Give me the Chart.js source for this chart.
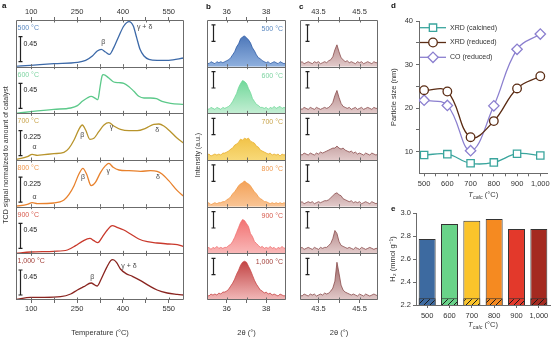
<!DOCTYPE html>
<html>
<head>
<meta charset="utf-8">
<title>Co catalysts calcined at 500–1,000 °C</title>
<script src="https://cdn.jsdelivr.net/npm/chart.js@4.4.1/dist/chart.umd.min.js"></script>
<style>
  html, body { margin: 0; padding: 0; background: #fff; }
  #fig { position: relative; width: 554px; height: 337px; overflow: hidden; }
  #fig canvas { position: absolute; }
  .tag { position: absolute; font: bold 8px "Liberation Sans", Arial, sans-serif; color: #111; }
</style>
</head>
<body>
<div id="fig">
  <canvas id="tpr" width="192" height="337" style="left:0;top:0"></canvas>
  <canvas id="xrdB" width="100" height="337" style="left:192px;top:0"></canvas>
  <canvas id="xrdC" width="93" height="337" style="left:292px;top:0"></canvas>
  <canvas id="size" width="169" height="200" style="left:385px;top:0"></canvas>
  <canvas id="h2" width="169" height="137" style="left:385px;top:200px"></canvas>
  <div class="tag" style="left:2px;top:1px">a</div>
  <div class="tag" style="left:206px;top:2px">b</div>
  <div class="tag" style="left:299px;top:2px">c</div>
  <div class="tag" style="left:391px;top:1px">d</div>
  <div class="tag" style="left:391px;top:204px">e</div>
</div>
<script>
// ---- calcination temperatures ----
const calcLabels = ['500 °C', '600 °C', '700 °C', '800 °C', '900 °C', '1,000 °C'];
const calcT = [500, 600, 700, 800, 900, 1000];
const calcNames = ['500', '600', '700', '800', '900', '1,000'];

// ---- (a) H2-TPR profiles, temperature (°C) / TCD signal ----
const tprT500 = [50, 98, 174, 251, 278, 300, 316, 329, 343, 356, 370, 387, 403, 420, 434, 445, 456, 469, 485, 512, 550, 600];
const tprV500 = [0.006, 0.024, 0.054, 0.078, 0.114, 0.192, 0.282, 0.312, 0.264, 0.222, 0.342, 0.552, 0.732, 0.81, 0.732, 0.522, 0.312, 0.192, 0.132, 0.114, 0.114, 0.156];
const tprT600 = [50, 98, 174, 229, 251, 267, 283, 296, 310, 318, 325, 332, 336, 354, 370, 387, 403, 420, 436, 452, 469, 490, 510, 528, 556, 600];
const tprV600 = [0, 0.03, 0.072, 0.096, 0.138, 0.216, 0.276, 0.306, 0.27, 0.246, 0.468, 0.678, 0.696, 0.636, 0.564, 0.552, 0.54, 0.48, 0.396, 0.306, 0.276, 0.276, 0.264, 0.216, 0.18, 0.162];
const tprT700 = [50, 87, 103, 120, 142, 174, 207, 223, 240, 256, 267, 278, 292, 305, 321, 338, 354, 370, 392, 420, 447, 474, 501, 518, 534, 556, 578, 600];
const tprV700 = [0.006, 0.03, 0.051, 0.042, 0.048, 0.057, 0.069, 0.105, 0.18, 0.276, 0.315, 0.27, 0.186, 0.195, 0.255, 0.315, 0.336, 0.306, 0.276, 0.264, 0.264, 0.285, 0.321, 0.324, 0.306, 0.255, 0.195, 0.15];
const tprT800 = [50, 87, 103, 120, 174, 207, 223, 240, 256, 269, 281, 296, 310, 327, 343, 354, 368, 387, 420, 458, 490, 512, 528, 550, 578, 600];
const tprV800 = [0.003, 0.021, 0.036, 0.027, 0.033, 0.06, 0.108, 0.189, 0.294, 0.345, 0.294, 0.189, 0.219, 0.309, 0.369, 0.39, 0.354, 0.33, 0.324, 0.318, 0.324, 0.318, 0.294, 0.234, 0.144, 0.09];
const tprT900 = [50, 98, 174, 218, 245, 267, 292, 305, 318, 332, 349, 365, 381, 403, 425, 452, 480, 512, 550, 578, 600];
const tprV900 = [0, 0.024, 0.036, 0.06, 0.138, 0.216, 0.27, 0.228, 0.192, 0.288, 0.42, 0.498, 0.468, 0.42, 0.348, 0.258, 0.21, 0.186, 0.168, 0.156, 0.12];
const tprT1000 = [50, 98, 142, 196, 229, 251, 272, 296, 308, 316, 329, 347, 360, 367, 379, 392, 409, 431, 458, 485, 512, 545, 578, 600];
const tprV1000 = [0.012, 0.048, 0.048, 0.06, 0.108, 0.18, 0.24, 0.306, 0.27, 0.252, 0.378, 0.588, 0.708, 0.726, 0.678, 0.558, 0.48, 0.426, 0.348, 0.258, 0.18, 0.126, 0.102, 0.09];
const tprScaleBars = [0.45, 0.45, 0.225, 0.225, 0.45, 0.45];
const tprYMax = [0.84, 0.84, 0.42, 0.42, 0.84, 0.84];
const tempTicks = [100, 175, 250, 325, 400, 475, 550];
const tempLabels = [100, 250, 400, 550];

// ---- (b) Co3O4 (311) reflection, 2θ (°) / counts ----
const twoThetaB = [35.0, 35.1, 35.2, 35.3, 35.4, 35.5, 35.6, 35.7, 35.8, 35.9, 36.0, 36.1, 36.2, 36.3, 36.4, 36.5, 36.6, 36.7, 36.8, 36.9, 37.0, 37.1, 37.2, 37.3, 37.4, 37.5, 37.6, 37.7, 37.8, 37.9, 38.0, 38.1, 38.2, 38.3, 38.4, 38.5, 38.6, 38.7, 38.8, 38.9, 39.0];
const xrdB500 = [4, 3, 5, 4, 3, 5, 4, 5, 4, 5, 6, 7, 9, 12, 15, 20, 23, 28, 30, 31, 29, 27, 24, 19, 16, 12, 9, 8, 6, 5, 4, 5, 3, 4, 5, 4, 3, 5, 4, 3, 4];
const xrdB600 = [5, 4, 6, 5, 4, 6, 5, 4, 6, 5, 6, 7, 9, 12, 16, 20, 26, 30, 33, 32, 30, 25, 21, 15, 12, 9, 8, 6, 6, 5, 6, 4, 6, 5, 7, 5, 6, 7, 5, 6, 5];
const xrdB700 = [5, 6, 4, 5, 6, 5, 6, 5, 7, 7, 8, 9, 11, 12, 15, 16, 18, 21, 20, 22, 21, 22, 19, 18, 17, 14, 13, 10, 9, 8, 7, 6, 7, 5, 6, 5, 6, 4, 6, 5, 6];
const xrdB800 = [3, 4, 2, 3, 4, 3, 4, 4, 5, 5, 7, 8, 10, 13, 15, 18, 21, 23, 24, 26, 24, 23, 21, 18, 15, 13, 10, 8, 7, 5, 5, 4, 3, 4, 3, 4, 3, 4, 3, 4, 3];
const xrdB900 = [5, 6, 4, 6, 5, 7, 5, 6, 5, 6, 6, 8, 9, 12, 16, 21, 26, 31, 34, 33, 30, 27, 20, 17, 12, 10, 8, 6, 7, 5, 6, 5, 7, 5, 6, 4, 6, 5, 7, 5, 6];
const xrdB1000 = [5, 4, 6, 5, 6, 5, 7, 6, 8, 8, 9, 11, 14, 17, 21, 26, 30, 35, 38, 39, 38, 34, 30, 25, 20, 16, 13, 10, 9, 7, 8, 6, 7, 5, 6, 5, 4, 6, 5, 4, 5];
const angleTicksB = [36, 37, 38];
const angleLabelsB = [36, 38];

// ---- (c) Co (111) reflection after reduction ----
const twoThetaC = [42.6, 42.7, 42.8, 42.9, 43.0, 43.1, 43.2, 43.3, 43.4, 43.5, 43.6, 43.7, 43.8, 43.9, 44.0, 44.1, 44.2, 44.3, 44.4, 44.5, 44.6, 44.7, 44.8, 44.9, 45.0, 45.1, 45.2, 45.3, 45.4, 45.5, 45.6, 45.7, 45.8, 45.9, 46.0, 46.1, 46.2, 46.3, 46.4];
const xrdC500 = [4, 5, 3, 4, 5, 4, 3, 5, 4, 5, 3, 4, 5, 4, 6, 7, 10, 17, 22, 15, 9, 7, 5, 6, 4, 5, 4, 3, 5, 4, 5, 3, 4, 5, 4, 3, 5, 4, 4];
const xrdC600 = [5, 4, 6, 5, 4, 6, 5, 4, 6, 5, 4, 5, 6, 5, 6, 8, 11, 18, 23, 16, 10, 7, 6, 5, 6, 4, 5, 6, 4, 5, 6, 4, 5, 6, 5, 4, 6, 5, 5];
const xrdC700 = [6, 5, 7, 6, 5, 7, 6, 5, 7, 6, 8, 7, 8, 9, 10, 11, 12, 12, 14, 12, 11, 12, 10, 9, 8, 9, 7, 8, 6, 7, 6, 5, 7, 6, 5, 7, 6, 5, 6];
const xrdC800 = [4, 5, 3, 4, 5, 4, 5, 3, 4, 5, 4, 5, 6, 6, 7, 9, 11, 13, 14, 12, 11, 8, 7, 6, 5, 6, 4, 5, 4, 5, 3, 4, 5, 4, 3, 5, 4, 3, 4];
const xrdC900 = [5, 6, 4, 5, 6, 5, 4, 6, 5, 4, 6, 5, 6, 6, 8, 10, 15, 23, 20, 12, 8, 7, 6, 5, 6, 5, 4, 6, 5, 4, 6, 5, 4, 5, 6, 5, 4, 5, 5];
const xrdC1000 = [5, 4, 6, 5, 4, 6, 5, 6, 4, 5, 6, 5, 7, 6, 7, 9, 12, 19, 38, 27, 15, 10, 8, 7, 6, 5, 6, 5, 4, 6, 5, 4, 6, 5, 4, 5, 6, 5, 4];
const angleTicksC = [43.5, 44.5, 45.5];
const angleLabelsC = [43.5, 45.5];

// ---- (d) particle size (nm) ----
const xrdCalcined = [9.2, 9.4, 7.3, 7.5, 9.5, 9.1];
const xrdReduced = [24.1, 23.8, 13.3, 17.0, 24.5, 27.3];
const coReduced = [21.8, 20.6, 10.2, 20.5, 33.5, 37.0];
const sizeTicks = [500, 550, 600, 650, 700, 750, 800, 850, 900, 950, 1000];
const sizeYTicks = [10, 15, 20, 25, 30, 35, 40];

// ---- (e) H2 uptake (mmol g-1) ----
const h2Uptake = [2.773, 2.904, 2.933, 2.948, 2.86, 2.86];
const h2Irreducible = [2.258, 2.258, 2.258, 2.258, 2.258, 2.258];
const h2Ticks = [2.2, 2.3, 2.4, 2.5, 2.6, 2.7, 2.8, 2.9, 3.0];

// ---- styling ----
const FONT = '"Liberation Sans", Arial, sans-serif';
Chart.defaults.font.family = FONT;
Chart.defaults.font.size = 7.5;
Chart.defaults.color = '#333';
Chart.defaults.animation = false;
Chart.defaults.responsive = false;
Chart.defaults.plugins.legend.display = false;
Chart.defaults.plugins.tooltip.enabled = false;

const lineColors = ['#3c69a8', '#5cc98a', '#b8942c', '#e8812c', '#c9392c', '#8a2520'];
const labelColors = ['#5a88c0', '#7fd4a2', '#c9a54c', '#f0994e', '#d75a4c', '#a3403a'];
const fillB = [
  ['#2b5aa6', '#8fb0de', '#2f5ca6'],
  ['#4fcf83', '#c3eed3', '#6fd898'],
  ['#e9aa12', '#f8d978', '#e9b030'],
  ['#ef8424', '#f9c596', '#f29a48'],
  ['#ef5757', '#f9b8b8', '#f07070'],
  ['#b82c2c', '#f2b9b9', '#c84848']
];
const fillC = ['#8c4f4f', '#e2caca', '#8a4c4c'];
const barColors = ['#3d6aa0', '#69d389', '#fbc42b', '#f58a21', '#e3392b', '#a42a20'];
const axisGrey = '#6b6b6b';

const panelIds = ['y0', 'y1', 'y2', 'y3', 'y4', 'y5'];

function frameAxis(pos, min, max, ticks, labels, height, title) {
  return {
    type: 'linear', position: pos, min: min, max: max,
    afterBuildTicks: s => { s.ticks = ticks.map(v => ({ value: v })); },
    afterFit: s => { s.height = height; },
    ticks: { autoSkip: false, maxRotation: 0, padding: 1, callback: v => labels.includes(v) ? String(v) : '' },
    grid: { drawOnChartArea: false, tickLength: 3, color: axisGrey },
    border: { display: false },
    title: title ? { display: true, text: title, padding: { top: 3, bottom: 0 } } : { display: false }
  };
}

function stackAxis(min, max) {
  return {
    type: 'linear', position: 'left', stack: 'panels', stackWeight: 1, min: min, max: max,
    ticks: { display: false }, grid: { display: false }, border: { display: false },
    afterFit: s => { s.width = 0; }
  };
}

// left-stacked axes are laid out last-defined first, so add them bottom panel first
function addStack(scales, maxFor) {
  panelIds.slice().reverse().forEach(id => { scales[id] = stackAxis(0, maxFor(panelIds.indexOf(id))); });
  return scales;
}

// frame, separators, inner ticks, temperature labels and scale bars of a stacked column
function stackDecor(cfg) {
  return {
    id: 'stackDecor',
    afterDatasetsDraw(chart) {
      const ctx = chart.ctx;
      const area = chart.chartArea;
      const xs = chart.scales.x;
      ctx.save();
      ctx.strokeStyle = axisGrey;
      ctx.lineWidth = 1;
      ctx.beginPath();
      ctx.rect(area.left + 0.5, area.top + 0.5, area.width - 1, area.height - 1);
      panelIds.forEach((id, i) => {
        const ys = chart.scales[id];
        if (i > 0) {
          const y = Math.round(ys.top) + 0.5;
          ctx.moveTo(area.left, y); ctx.lineTo(area.right, y);
        }
        xs.ticks.forEach(t => {
          const x = Math.round(xs.getPixelForValue(t.value)) + 0.5;
          ctx.moveTo(x, ys.top); ctx.lineTo(x, ys.top + 2.5);
          ctx.moveTo(x, ys.bottom); ctx.lineTo(x, ys.bottom - 2.5);
        });
      });
      ctx.stroke();

      ctx.textBaseline = 'middle';
      panelIds.forEach((id, i) => {
        const ys = chart.scales[id];
        ctx.font = '7px ' + FONT;
        ctx.fillStyle = labelColors[i];
        if (cfg.labelRight) {
          ctx.textAlign = 'right';
          ctx.fillText(calcLabels[i], area.right - 3, ys.top + 9);
        } else if (cfg.labels) {
          ctx.textAlign = 'left';
          ctx.fillText(calcLabels[i], area.left + 1.5, ys.top + 8);
        }
        const v = cfg.bar(i);
        const y0 = ys.getPixelForValue(v[0]);
        const y1 = ys.getPixelForValue(v[1]);
        const bx = Math.round(area.left + cfg.barX) + 0.5;
        ctx.strokeStyle = '#222';
        ctx.lineWidth = 1.2;
        ctx.beginPath();
        ctx.moveTo(bx, y0); ctx.lineTo(bx, y1);
        ctx.moveTo(bx - 2, y0); ctx.lineTo(bx + 2, y0);
        ctx.moveTo(bx - 2, y1); ctx.lineTo(bx + 2, y1);
        ctx.stroke();
        if (cfg.barText) {
          ctx.fillStyle = '#222';
          ctx.textAlign = 'left';
          ctx.fillText(String(tprScaleBars[i]), bx + 3, y1 + 7);
        }
      });

      if (cfg.notes) {
        ctx.fillStyle = '#444';
        ctx.textAlign = 'center';
        ctx.font = '7px ' + FONT;
        cfg.notes.forEach(n => {
          const ys = chart.scales[panelIds[n[0]]];
          ctx.fillText(n[1], xs.getPixelForValue(n[2]), ys.getPixelForValue(n[3]));
        });
      }

      if (cfg.yTitle) {
        ctx.save();
        ctx.translate(cfg.yTitle.x, cfg.yTitle.y);
        ctx.rotate(-Math.PI / 2);
        ctx.fillStyle = '#333';
        ctx.font = cfg.yTitle.size + 'px ' + FONT;
        ctx.textAlign = 'center';
        ctx.fillText(cfg.yTitle.text, 0, 0);
        ctx.restore();
      }
      ctx.restore();
    }
  };
}

// ---- (a) TPR ----
const tprSets = [
  [tprT500, tprV500], [tprT600, tprV600], [tprT700, tprV700],
  [tprT800, tprV800], [tprT900, tprV900], [tprT1000, tprV1000]
];
const tprScales = addStack({
  x: frameAxis('bottom', 50, 600, tempTicks, tempLabels, 37, 'Temperature (°C)'),
  x2: frameAxis('top', 50, 600, tempTicks, tempLabels, 20, null)
}, i => tprYMax[i]);

new Chart('tpr', {
  type: 'line',
  data: {
    datasets: tprSets.map((s, i) => ({
      data: s[0].map((t, j) => ({ x: t, y: s[1][j] })),
      yAxisID: panelIds[i],
      borderColor: lineColors[i],
      borderWidth: 1.3,
      pointRadius: 0,
      cubicInterpolationMode: 'monotone'
    }))
  },
  options: {
    layout: { padding: { left: 16, right: 8, top: 0, bottom: 0 } },
    scales: tprScales
  },
  plugins: [stackDecor({
    labels: true,
    barX: 3.5,
    barText: true,
    bar: i => tprYMax[i] > 0.5 ? [0.09, 0.54] : [0.04, 0.265],
    notes: [
      [0, 'β', 336, 0.45], [0, 'γ + δ', 471, 0.72],
      [2, 'α', 111, 0.114], [2, 'β', 267, 0.225], [2, 'γ', 363, 0.294], [2, 'δ', 512, 0.27],
      [3, 'α', 111, 0.084], [3, 'β', 269, 0.264], [3, 'γ', 352, 0.324], [3, 'δ', 515, 0.27],
      [5, 'β', 300, 0.42], [5, 'γ + δ', 420, 0.615]
    ],
    yTitle: { text: 'TCD signal normalized to amount of catalyst', x: 6, y: 155, size: 7 }
  })]
});

// ---- (b), (c) XRD ----
function xrdDataset(angles, counts, axisId, colors) {
  return {
    data: angles.map((a, i) => ({ x: a, y: counts[i] })),
    yAxisID: axisId,
    borderColor: colors[2],
    borderWidth: 0.8,
    pointRadius: 0,
    tension: 0,
    fill: 'origin',
    backgroundColor: ctx => {
      const s = ctx.chart.scales[axisId];
      if (!s || !(s.bottom > s.top)) return colors[0];
      const g = ctx.chart.ctx.createLinearGradient(0, s.top, 0, s.bottom);
      g.addColorStop(0, colors[0]);
      g.addColorStop(1, colors[1]);
      return g;
    }
  };
}

function xrdChart(id, angles, series, ticks, labels, min, max, pad, colorsFor, decor) {
  const scales = addStack({
    x: frameAxis('bottom', min, max, ticks, labels, 37, '2θ (°)'),
    x2: frameAxis('top', min, max, ticks, labels, 20, null)
  }, () => 47);
  new Chart(id, {
    type: 'line',
    data: { datasets: series.map((s, i) => xrdDataset(angles, s, panelIds[i], colorsFor(i))) },
    options: { layout: { padding: pad }, scales: scales },
    plugins: [stackDecor(decor)]
  });
}

xrdChart('xrdB', twoThetaB, [xrdB500, xrdB600, xrdB700, xrdB800, xrdB900, xrdB1000],
  angleTicksB, angleLabelsB, 35, 39, { left: 15, right: 6, top: 0, bottom: 0 }, i => fillB[i],
  { labelRight: true, barX: 6, bar: () => [25.5, 42], yTitle: { text: 'Intensity (a.u.)', x: 6, y: 155, size: 7 } });

xrdChart('xrdC', twoThetaC, [xrdC500, xrdC600, xrdC700, xrdC800, xrdC900, xrdC1000],
  angleTicksC, angleLabelsC, 42.6, 46.4, { left: 8, right: 7, top: 0, bottom: 0 }, () => fillC,
  { barX: 6.5, bar: () => [25.5, 42] });

// ---- T_calc axis caption ----
function drawTcalc(ctx, cx, cy) {
  const f1 = 'italic 7.5px ' + FONT, f2 = 'italic 5.5px ' + FONT, f3 = '7.5px ' + FONT;
  ctx.save();
  ctx.font = f1; const w1 = ctx.measureText('T').width;
  ctx.font = f2; const w2 = ctx.measureText('calc').width;
  ctx.font = f3; const w3 = ctx.measureText(' (°C)').width;
  let x = cx - (w1 + w2 + w3) / 2;
  ctx.textAlign = 'left';
  ctx.textBaseline = 'middle';
  ctx.fillStyle = '#333';
  ctx.font = f1; ctx.fillText('T', x, cy); x += w1;
  ctx.font = f2; ctx.fillText('calc', x, cy + 2); x += w2;
  ctx.font = f3; ctx.fillText(' (°C)', x, cy);
  ctx.restore();
}

const tcalcCaption = y => ({
  id: 'tcalcCaption',
  afterDraw(chart) {
    const a = chart.chartArea;
    drawTcalc(chart.ctx, (a.left + a.right) / 2, y);
  }
});

const nameFor = v => v === 1000 ? '1,000' : String(v);

// ---- (d) particle size ----
const sizeSeries = [
  { label: 'XRD (calcined)', values: xrdCalcined, color: '#3aa59d', style: 'rect', r: 5.2 },
  { label: 'XRD (reduced)', values: xrdReduced, color: '#5b2c14', style: 'circle', r: 4.3 },
  { label: 'CO (reduced)', values: coReduced, color: '#8b7fcf', style: 'rectRot', r: 5.2 }
];

function marker(ctx, style, x, y, r) {
  ctx.beginPath();
  if (style === 'rect') {
    const h = r * Math.SQRT1_2;
    ctx.rect(x - h, y - h, 2 * h, 2 * h);
  } else if (style === 'circle') {
    ctx.arc(x, y, r, 0, Math.PI * 2);
  } else {
    ctx.moveTo(x, y - r); ctx.lineTo(x + r, y); ctx.lineTo(x, y + r); ctx.lineTo(x - r, y); ctx.closePath();
  }
  ctx.fill();
  ctx.stroke();
}

const sizeLegend = {
  id: 'sizeLegend',
  afterDraw(chart) {
    const ctx = chart.ctx;
    ctx.save();
    sizeSeries.forEach((s, i) => {
      const y = 27.7 + i * 14.8;
      ctx.strokeStyle = s.color;
      ctx.lineWidth = 1.3;
      ctx.beginPath(); ctx.moveTo(35, y); ctx.lineTo(61, y); ctx.stroke();
      ctx.fillStyle = '#fff';
      marker(ctx, s.style, 48, y, s.r);
      ctx.fillStyle = '#333';
      ctx.font = '7px ' + FONT;
      ctx.textAlign = 'left';
      ctx.textBaseline = 'middle';
      ctx.fillText(s.label, 65, y);
    });
    ctx.restore();
  }
};

new Chart('size', {
  type: 'line',
  data: {
    datasets: sizeSeries.map(s => ({
      label: s.label,
      data: calcT.map((t, i) => ({ x: t, y: s.values[i] })),
      borderColor: s.color,
      borderWidth: 1.3,
      tension: 0.4,
      pointStyle: s.style,
      pointRadius: s.r,
      pointBackgroundColor: '#fff',
      pointBorderColor: s.color,
      pointBorderWidth: 1.3
    }))
  },
  options: {
    layout: { padding: { left: 0, right: 6, top: 21, bottom: 0 } },
    scales: {
      x: {
        type: 'linear', min: 478, max: 1031,
        afterBuildTicks: s => { s.ticks = sizeTicks.map(v => ({ value: v })); },
        afterFit: s => { s.height = 26.7; },
        ticks: { autoSkip: false, maxRotation: 0, padding: 3, callback: v => v % 100 === 0 ? nameFor(v) : '' },
        grid: { drawOnChartArea: false, tickLength: 3, color: axisGrey },
        border: { color: axisGrey }
      },
      y: {
        type: 'linear', min: 5, max: 40,
        afterBuildTicks: s => { s.ticks = sizeYTicks.map(v => ({ value: v })); },
        afterFit: s => { s.width = 34; },
        ticks: { padding: 3, callback: v => v % 10 === 0 ? String(v) : '' },
        grid: { drawOnChartArea: false, tickLength: 3, color: axisGrey },
        border: { color: axisGrey },
        title: { display: true, text: 'Particle size (nm)', padding: { top: 4, bottom: 0 } }
      }
    }
  },
  plugins: [sizeLegend, tcalcCaption(195)]
});

// ---- (e) H2 consumption ----
function hatch(color) {
  const c = document.createElement('canvas');
  c.width = 6; c.height = 6;
  const g = c.getContext('2d');
  g.fillStyle = color;
  g.fillRect(0, 0, 6, 6);
  g.strokeStyle = '#1a1a1a';
  g.lineWidth = 1;
  g.beginPath();
  g.moveTo(-1, 7); g.lineTo(7, -1);
  g.moveTo(-1, 1); g.lineTo(1, -1);
  g.moveTo(5, 7); g.lineTo(7, 5);
  g.stroke();
  return g.createPattern(c, 'repeat');
}

new Chart('h2', {
  type: 'bar',
  data: {
    labels: calcNames,
    datasets: [
      { data: h2Uptake, backgroundColor: barColors, borderColor: '#333', borderWidth: 1,
        grouped: false, barPercentage: 0.76, categoryPercentage: 1, order: 2 },
      { data: h2Irreducible, backgroundColor: barColors.map(hatch), borderColor: '#333', borderWidth: 1,
        grouped: false, barPercentage: 0.76, categoryPercentage: 1, order: 1 }
    ]
  },
  options: {
    layout: { padding: { left: 0, right: 4, top: 13, bottom: 0 } },
    scales: {
      x: {
        afterFit: s => { s.height = 32; },
        ticks: { padding: 3, maxRotation: 0, autoSkip: false },
        grid: { offset: false, drawOnChartArea: false, tickLength: 3, color: axisGrey },
        border: { color: axisGrey }
      },
      y: {
        type: 'linear', min: 2.2, max: 3.0,
        afterBuildTicks: s => { s.ticks = h2Ticks.map(v => ({ value: v })); },
        afterFit: s => { s.width = 31; },
        ticks: { padding: 2, callback: (v, i) => i % 2 === 0 ? v.toFixed(1) : '' },
        grid: { drawOnChartArea: false, tickLength: 3, color: axisGrey },
        border: { color: axisGrey },
        title: { display: true, text: 'H₂ (mmol g⁻¹)', padding: { top: 3.5, bottom: 0 } }
      }
    }
  },
  plugins: [tcalcCaption(125)]
});
</script>
</body>
</html>
